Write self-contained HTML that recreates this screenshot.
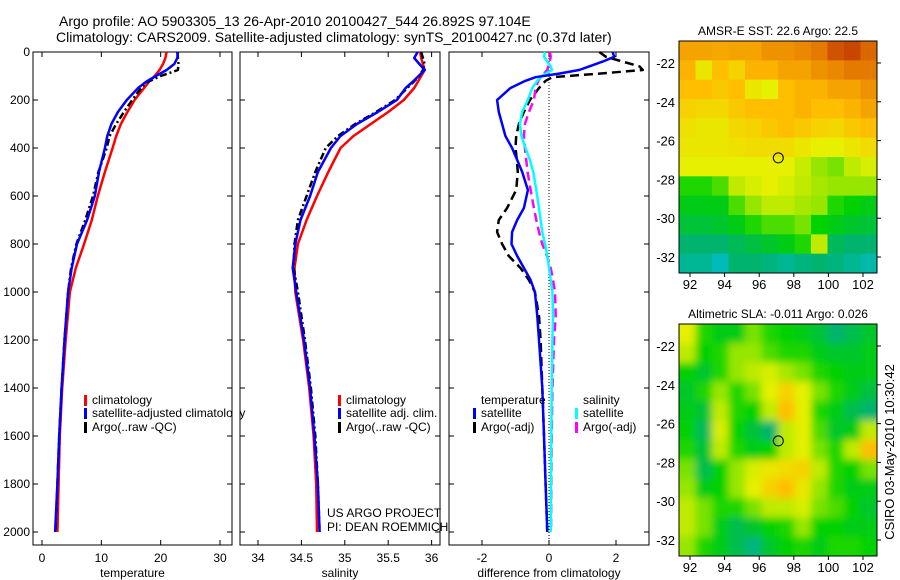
<!DOCTYPE html>
<html><head><meta charset="utf-8"><style>
html,body{margin:0;padding:0;background:#fff;}
svg{display:block;font-family:"Liberation Sans",sans-serif;font-size:12px;}
</style></head><body>
<svg id="fig" width="900" height="580" viewBox="0 0 900 580">
<defs>
<filter id="blur2" x="0" y="0" width="100%" height="100%"><feGaussianBlur stdDeviation="4"/></filter>
<clipPath id="clipMap2"><rect x="679" y="324" width="198" height="232"/></clipPath>
</defs>
<text x="59" y="26" font-size="14">Argo profile: AO 5903305_13 26-Apr-2010 20100427_544 26.892S 97.104E</text>
<text x="56" y="42" font-size="14">Climatology: CARS2009. Satellite-adjusted climatology: synTS_20100427.nc (0.37d later)</text>
<g id="g"></g>
</svg>
<script>
// ---------- data ----------
const depths = [0,25,50,75,100,125,150,200,250,300,350,400,500,600,700,800,900,1000,1200,1400,1600,1800,2000];
const tempClim = [21,20.8,20.4,19.8,19,18,17.2,15.6,14.4,13.3,12.5,11.9,10.6,9.4,8.4,7.1,5.7,4.7,4.0,3.4,3.0,2.8,2.6];
const tempSat = [22.9,22.8,22.3,21,19.2,17.5,16.2,14.3,12.8,11.7,11,10.6,9.6,8.9,7.6,5.9,5.0,4.4,3.8,3.3,2.9,2.6,2.2];
const tempArgo = [22.8,22.9,23,22.9,20,17.8,16.7,15.2,13.8,12.5,11.4,10.9,9.5,8.6,7.3,5.8,4.9,4.4,3.8,3.3,2.9,2.6,2.3];
const salClim = [35.87,35.88,35.9,35.92,35.88,35.84,35.8,35.68,35.5,35.3,35.1,34.95,34.81,34.68,34.56,34.46,34.42,34.43,34.52,34.59,34.64,34.67,34.68];
const salSat = [35.84,35.8,35.86,35.92,35.85,35.78,35.7,35.6,35.38,35.14,34.95,34.84,34.69,34.6,34.49,34.43,34.4,34.44,34.53,34.6,34.65,34.69,34.71];
const salArgo = [35.88,35.9,35.92,35.9,35.86,35.79,35.72,35.58,35.36,35.12,34.92,34.78,34.66,34.56,34.46,34.42,34.41,34.46,34.54,34.61,34.66,34.69,34.71];
const diffDepths = [0,20,40,60,75,90,105,120,150,200,250,300,350,400,450,500,575,650,700,750,800,850,900,950,1000,1100,1200,1400,1600,1800,2000];
const diffTempSat = [1.9,1.95,1.6,1.2,0.9,0.3,-0.4,-0.7,-1.15,-1.55,-1.5,-1.4,-1.3,-1.1,-0.95,-0.8,-0.63,-0.75,-0.95,-1.1,-1.12,-0.95,-0.75,-0.55,-0.42,-0.35,-0.3,-0.2,-0.15,-0.1,-0.05];
const diffTempArgo = [1.5,1.7,2.2,2.7,2.8,1.5,0.1,-0.1,-0.3,-0.57,-0.75,-0.9,-0.98,-1.0,-0.96,-0.93,-0.98,-1.25,-1.5,-1.55,-1.4,-1.2,-0.85,-0.6,-0.42,-0.3,-0.25,-0.2,-0.15,-0.1,-0.05];
const diffSalSat = [-0.12,-0.15,-0.05,0.05,0.09,-0.1,-0.25,-0.35,-0.5,-0.63,-0.8,-0.87,-0.82,-0.7,-0.57,-0.47,-0.38,-0.3,-0.25,-0.2,-0.12,-0.05,0,0.05,0.1,0.12,0.1,0.08,0.07,0.06,0.05];
const diffSalArgo = [0.03,0.05,0.02,-0.02,-0.05,-0.15,-0.25,-0.32,-0.4,-0.45,-0.6,-0.72,-0.75,-0.72,-0.68,-0.64,-0.55,-0.45,-0.38,-0.3,-0.2,-0.06,0.05,0.12,0.18,0.2,0.15,0.1,0.08,0.07,0.06];
const depthTicks = [0,200,400,600,800,1000,1200,1400,1600,1800,2000];
const tempTicks = [0,10,20,30];
const salTicks = [34,34.5,35,35.5,36];
const diffTicks = [-2,0,2];
const latTicks = [-22,-24,-26,-28,-30,-32];
const lonTicks = [92,94,96,98,100,102];
// SST field (normalized colour index), rows north->south
const sstGrid = [
[.75,.75,.74,.75,.75,.78,.78,.8,.82,.88,.9,.85],
[.72,.62,.7,.66,.72,.72,.75,.75,.78,.8,.82,.82],
[.7,.7,.68,.7,.62,.6,.7,.72,.72,.75,.75,.78],
[.66,.65,.65,.68,.7,.7,.7,.72,.7,.7,.72,.75],
[.63,.62,.62,.65,.66,.68,.7,.68,.66,.65,.68,.7],
[.62,.62,.62,.63,.64,.64,.64,.62,.6,.6,.62,.64],
[.6,.6,.6,.6,.6,.6,.6,.56,.5,.48,.55,.58],
[.42,.42,.45,.55,.58,.6,.58,.55,.52,.5,.5,.5],
[.38,.38,.38,.45,.5,.55,.55,.52,.5,.42,.4,.38],
[.35,.35,.36,.38,.42,.45,.45,.48,.4,.38,.36,.35],
[.3,.3,.3,.32,.34,.36,.38,.42,.55,.32,.3,.3],
[.25,.25,.2,.3,.3,.28,.25,.28,.3,.28,.25,.22]];
const slaGrid = [
[.6,.42,.38,.38,.48,.42,.4,.38,.35,.3,.33,.36],
[.55,.4,.42,.5,.5,.45,.42,.42,.38,.36,.36,.38],
[.4,.36,.42,.5,.55,.58,.52,.48,.42,.4,.38,.38],
[.36,.42,.5,.42,.48,.6,.66,.6,.48,.42,.38,.34],
[.38,.35,.55,.42,.4,.55,.7,.6,.42,.38,.33,.3],
[.4,.32,.58,.4,.35,.3,.55,.6,.45,.36,.38,.55],
[.42,.35,.55,.42,.38,.4,.55,.6,.48,.42,.55,.7],
[.48,.33,.4,.5,.58,.62,.64,.66,.55,.42,.4,.48],
[.5,.38,.4,.5,.6,.66,.7,.62,.5,.42,.38,.38],
[.55,.48,.42,.42,.48,.55,.55,.58,.48,.45,.4,.36],
[.55,.48,.38,.33,.36,.4,.42,.5,.4,.4,.38,.38],
[.5,.42,.38,.33,.28,.36,.4,.42,.38,.42,.42,.4]];
const floatLon = 97.104, floatLat = -26.892;

// ---------- helpers ----------
const NS="http://www.w3.org/2000/svg";
const G=document.getElementById('g');
function el(tag,attrs,parent){const e=document.createElementNS(NS,tag);for(const k in attrs)e.setAttribute(k,attrs[k]);(parent||G).appendChild(e);return e;}
const yD = d => 52 + d*0.24;
const PB = 545;
function axisX(x0,x1,v0,v1){return v=>x0+(v-v0)*(x1-x0)/(v1-v0);}
const xT = axisX(42,220,0,30);
const xS = axisX(258,431.6,34,36);
const xDf = axisX(549,616,0,2);
function line(xf,vals,ds,color,dash,name){
  const pts=vals.map((v,i)=>xf(v).toFixed(1)+','+yD(ds[i]).toFixed(1)).join(' ');
  const p=el('polyline',{points:pts,fill:'none',stroke:color,'stroke-width':2.5,'stroke-linejoin':'round'});
  if(dash)p.setAttribute('stroke-dasharray',dash);
  
  
}
function frame(x0,x1,xf,ticks,label,title,name,yLabels){
  const r=el('rect',{x:x0,y:52,width:x1-x0,height:PB-52,fill:'none',stroke:'#000','stroke-width':1});
  
  
  ticks.forEach(t=>{const x=xf(t);
    el('line',{x1:x,x2:x,y1:52,y2:57,stroke:'#000'});el('line',{x1:x,x2:x,y1:PB,y2:PB-5,stroke:'#000'});
    const tx=el('text',{x:x,y:562,'text-anchor':'middle'});tx.textContent=label(t);
    
    
  });
  depthTicks.forEach(d=>{const y=yD(d);
    el('line',{x1:x0,x2:x0+5,y1:y,y2:y,stroke:'#000'});el('line',{x1:x1,x2:x1-5,y1:y,y2:y,stroke:'#000'});
    if(yLabels){const tx=el('text',{x:x0-3,y:y+4,'text-anchor':'end'});tx.textContent=d;
      
      }
  });
  const tt=el('text',{x:(x0+x1)/2,y:577,'text-anchor':'middle'});tt.textContent=title;
  
  
}
function legend(x,y,color,text,name){
  el('rect',{x:x,y:y-5,width:3,height:11,fill:color});
  const t=el('text',{x:x+8,y:y+4});t.textContent=text;
  
  
}
// ---------- panel 1 temperature ----------
frame(33,232,xT,tempTicks,t=>t,'temperature','temperature-panel',true);
line(xT,tempClim,depths,'#f00',null,'temp-climatology-line');
line(xT,tempArgo,depths,'#000','7,3,2,3','temp-argo-line');
line(xT,tempSat,depths,'#00f',null,'temp-satellite-line');
legend(84,400,'#f00','climatology','legend-temp-climatology');
legend(84,413,'#00f','satellite-adjusted climatology','legend-temp-satellite');
legend(84,427,'#000','Argo(..raw -QC)','legend-temp-argo');
el('rect',{x:233,y:390,width:6,height:50,fill:'#fff'});
// ---------- panel 2 salinity ----------
frame(240,440,xS,salTicks,t=>t,'salinity','salinity-panel',false);
line(xS,salClim,depths,'#f00',null,'sal-climatology-line');
line(xS,salArgo,depths,'#000','7,3,2,3','sal-argo-line');
line(xS,salSat,depths,'#00f',null,'sal-satellite-line');
legend(338,400,'#f00','climatology','legend-sal-climatology');
legend(338,413,'#00f','satellite adj. clim.','legend-sal-satellite');
legend(338,427,'#000','Argo(..raw -QC)','legend-sal-argo');
let t1=el('text',{x:327,y:517});t1.textContent='US ARGO PROJECT';


let t2=el('text',{x:327,y:531});t2.textContent='PI: DEAN ROEMMICH';


// ---------- panel 3 differences ----------
frame(449,649,xDf,diffTicks,t=>t,'difference from climatology','difference-panel',false);
el('line',{x1:xDf(0),x2:xDf(0),y1:52,y2:PB,stroke:'#000','stroke-width':1,'stroke-dasharray':'1,2'});
line(xDf,diffTempArgo,diffDepths,'#000','9,5','diff-temp-argo-line');
line(xDf,diffSalArgo,diffDepths,'#f0f','9,5','diff-sal-argo-line');
line(xDf,diffSalSat,diffDepths,'#0ff',null,'diff-sal-satellite-line');
line(xDf,diffTempSat,diffDepths,'#00f',null,'diff-temp-satellite-line');
let lt=el('text',{x:481,y:404});lt.textContent='temperature';


let ls=el('text',{x:583,y:404});ls.textContent='salinity';


legend(473,413,'#00f','satellite','legend-diff-temp-satellite');
legend(473,427,'#000','Argo(-adj)','legend-diff-temp-argo');
legend(575,413,'#0ff','satellite','legend-diff-sal-satellite');
legend(575,427,'#f0f','Argo(-adj)','legend-diff-sal-argo');
// ---------- maps ----------
const stops=[[0.15,[0,190,220]],[0.3,[0,180,110]],[0.4,[0,210,0]],[0.5,[150,230,0]],[0.6,[230,240,0]],[0.7,[255,190,0]],[0.8,[235,135,0]],[0.9,[200,70,0]],[1,[170,0,0]]];
function cmap(v){if(v<=stops[0][0])return 'rgb('+stops[0][1]+')';
  for(let i=1;i<stops.length;i++){if(v<=stops[i][0]){const a=stops[i-1],b=stops[i],f=(v-a[0])/(b[0]-a[0]);
    return 'rgb('+a[1].map((c,k)=>Math.round(c+(b[1][k]-c)*f)).join(',')+')';}}
  return 'rgb('+stops[stops.length-1][1]+')';}
function drawMap(grid,top,name,titleText,blur){
  const L=679,R=877,B=top+232;
  const lonX=axisX(690,863,92,102);
  const latY=v=>top+22+(v-(-22))*(-19.4);
  const grp=el('g',{});
  
  
  if(blur){grp.setAttribute('filter','url(#blur2)');grp.setAttribute('clip-path','url(#clipMap2)');}
  const rows=grid.length,cols=grid[0].length,cw=(R-L)/cols,ch=(B-top)/rows;
  const pad=blur?10:0;
  grid.forEach((row,r)=>row.forEach((v,c)=>{
    const x=L+c*cw-(c==0?pad:0),y=top+r*ch-(r==0?pad:0);
    const w=cw+0.5+(c==0||c==cols-1?pad:0),h=ch+0.5+(r==0||r==rows-1?pad:0);
    const cell=el('rect',{x:x,y:y,width:w,height:h,fill:cmap(v)},grp);
    
    
  }));
  el('rect',{x:L,y:top,width:R-L,height:B-top,fill:'none',stroke:'#000','stroke-width':1});
  latTicks.forEach(v=>{const y=latY(v);el('line',{x1:R,x2:R+4,y1:y,y2:y,stroke:'#000'});
    const t=el('text',{x:L-4,y:y+5,'text-anchor':'end','font-size':13});t.textContent=v;
    
    });
  lonTicks.forEach(v=>{const x=lonX(v);el('line',{x1:x,x2:x,y1:B,y2:B+4,stroke:'#000'});
    const t=el('text',{x:x,y:B+16,'text-anchor':'middle','font-size':13});t.textContent=v;
    
    });
  const c=el('circle',{cx:lonX(floatLon),cy:latY(floatLat),r:5,fill:'none',stroke:'#000','stroke-width':1});
  
  
  const t=el('text',{x:(L+R)/2,y:top-6,'text-anchor':'middle'});t.textContent=titleText;
  
  
}
drawMap(sstGrid,41,'sst-map','AMSR-E SST: 22.6 Argo: 22.5',false);
drawMap(slaGrid,324,'sla-map','Altimetric SLA: -0.011 Argo: 0.026',true);
const cs=el('text',{x:0,y:0,'text-anchor':'middle','font-size':13,transform:'translate(894,452) rotate(-90)'});
cs.textContent='CSIRO 03-May-2010 10:30:42';


</script>
</body></html>
